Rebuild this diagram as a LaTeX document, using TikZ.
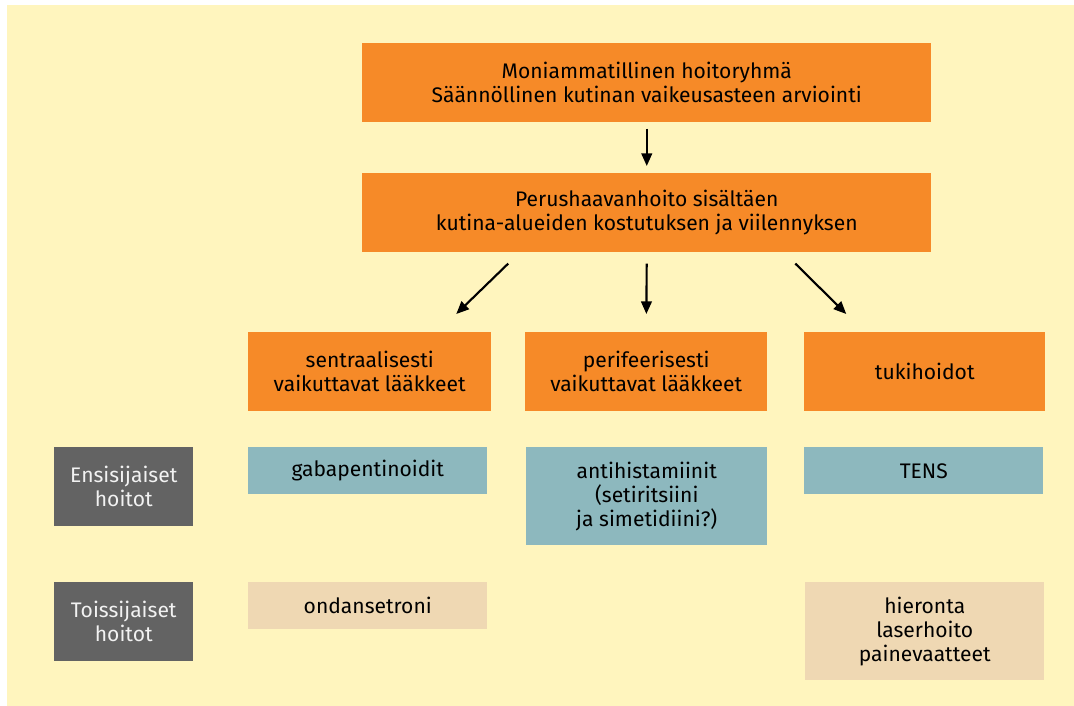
\documentclass[tikz,border=0pt]{standalone}
\usepackage{fontspec}
\setmainfont{Fira Sans}
\usetikzlibrary{calc,arrows.meta}
\definecolor{bgyel}{HTML}{FFF5BE}
\definecolor{orng}{HTML}{F68A28}
\definecolor{bluegr}{HTML}{8DB8BE}
\definecolor{tan}{HTML}{EFD8B3}
\definecolor{dgray}{HTML}{636363}
\definecolor{ltxt}{HTML}{F2F2F2}
\tikzset{
  box/.style={rectangle, inner sep=0pt, anchor=north west, align=center,
    font=\fontsize{15.8}{18}\selectfont, text=black},
  obox/.style={box, fill=orng},
  bbox/.style={box, fill=bluegr},
  tbox/.style={box, fill=tan},
  gbox/.style={box, fill=dgray, text=ltxt},
  arr/.style={draw=black, line width=1.6pt, -{Triangle[length=9.5pt,width=8pt]}}
}
\begin{document}
\begin{tikzpicture}[x=0.75pt,y=-0.75pt]
\useasboundingbox (0,0) rectangle (1074,706);
\fill[bgyel] (7,5) rectangle (1074,706);
\node[obox, minimum width=426.75pt, minimum height=59.25pt] (top) at (362,43)
  {Moniammatillinen hoitoryhmä\\Säännöllinen kutinan vaikeusasteen arviointi};
\node[obox, minimum width=426.75pt, minimum height=59.25pt] (perus) at (362,173)
  {Perushaavanhoito sisältäen\\kutina-alueiden kostutuksen ja viilennyksen};
\node[obox, minimum width=182.25pt, minimum height=59.25pt] (sent) at (248,332)
  {sentraalisesti\\vaikuttavat lääkkeet};
\node[obox, minimum width=181.5pt, minimum height=59.25pt] (peri) at (525,332)
  {perifeerisesti\\vaikuttavat lääkkeet};
\node[obox, minimum width=180.75pt, minimum height=59.25pt] (tuki) at (804,332)
  {tukihoidot};
\node[gbox, minimum width=104.25pt, minimum height=59.25pt] (ens) at (54,447)
  {Ensisijaiset\\hoitot};
\node[gbox, minimum width=104.25pt, minimum height=59.25pt] (toi) at (54,582)
  {Toissijaiset\\hoitot};
\node[bbox, minimum width=179.25pt, minimum height=35.25pt] (gaba) at (248,447)
  {gabapentinoidit};
\node[bbox, minimum width=180.75pt, minimum height=73.5pt] (anti) at (526,447)
  {antihistamiinit\\(setiritsiini\\ja simetidiini?)};
\node[bbox, minimum width=179.25pt, minimum height=35.25pt] (tens) at (804,447)
  {TENS};
\node[tbox, minimum width=179.25pt, minimum height=35.25pt] (onda) at (248,582)
  {ondansetroni};
\node[tbox, minimum width=179.25pt, minimum height=73.5pt] (hier) at (805,582)
  {hieronta\\laserhoito\\painevaatteet};
\draw[arr, shorten <=4.5pt, shorten >=5.25pt] (top.south) -- (perus.north);
\draw[arr, shorten <=8.25pt, shorten >=13.5pt] (perus.south) -- (peri.north);
\coordinate (ls) at ($(perus.south)+(-138.5,11)$);
\coordinate (le) at ($(sent.north)+(86.5,-18)$);
\coordinate (rs) at ($(perus.south)+(148.5,11)$);
\coordinate (re) at ($(tuki.north)+(-78.5,-18)$);
\draw[arr] (ls) -- (le);
\draw[arr] (rs) -- (re);
\end{tikzpicture}
\end{document}
